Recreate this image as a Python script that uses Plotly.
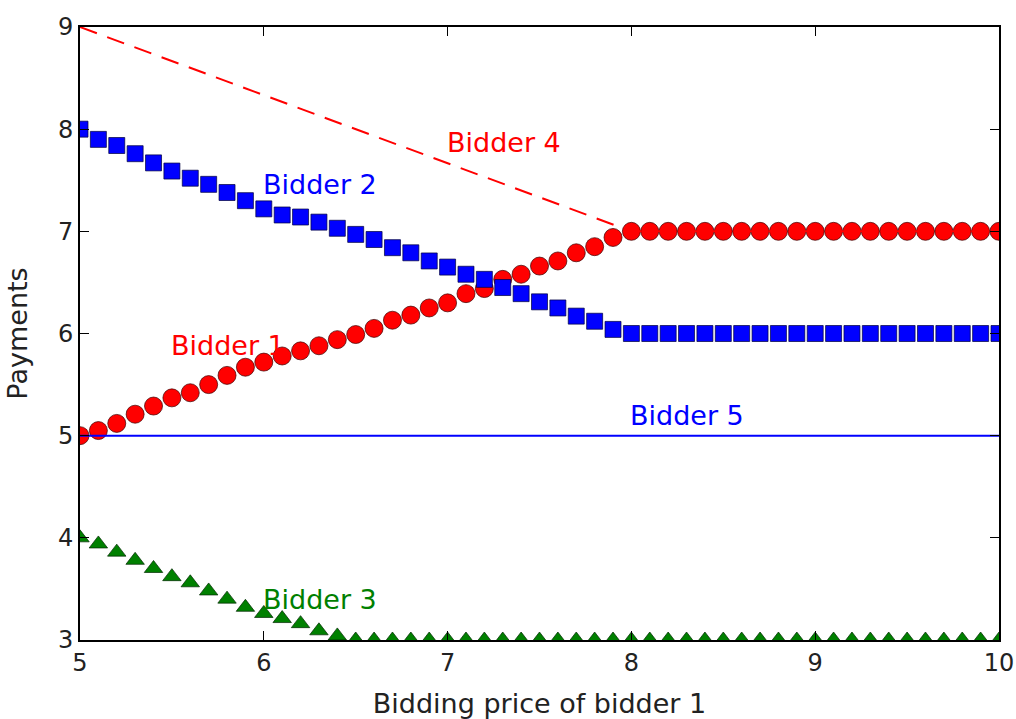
import plotly.graph_objects as go

x_price = [round(5 + 0.1 * i, 1) for i in range(51)]

bidder1 = [5.00, 5.05, 5.12, 5.21, 5.29, 5.37, 5.42, 5.50, 5.59, 5.67,
           5.72, 5.78, 5.83, 5.88, 5.94, 5.99, 6.05, 6.13, 6.18, 6.25,
           6.30, 6.39, 6.44, 6.53, 6.58, 6.66, 6.71, 6.79, 6.85, 6.94,
           7.00] + [7.00] * 20
bidder2 = [8.00, 7.90, 7.84, 7.76, 7.67, 7.59, 7.52, 7.46, 7.38, 7.30,
           7.22, 7.16, 7.14, 7.09, 7.03, 6.97, 6.92, 6.84, 6.79, 6.71,
           6.65, 6.58, 6.53, 6.45, 6.39, 6.31, 6.25, 6.17, 6.12, 6.04,
           6.00] + [6.00] * 20
bidder3 = [4.00, 3.94, 3.86, 3.78, 3.70, 3.62, 3.56, 3.48, 3.40, 3.32,
           3.26, 3.21, 3.16, 3.09, 3.04] + [3.00] * 36
bidder4_x = [5, 8, 10]
bidder4 = [9, 7, 7]
bidder5_x = [5, 10]
bidder5 = [5, 5]

labels = ["Bidder 1", "Bidder 2", "Bidder 3", "Bidder 4", "Bidder 5"]
label_x = [5.5, 6.0, 6.0, 7.0, 8.0]
label_y = [5.88, 7.46, 3.40, 7.87, 5.20]
label_colors = ["#ff0000", "#0000ff", "#008000", "#ff0000", "#0000ff"]

RED, BLUE, GREEN = "#ff0000", "#0000ff", "#008000"

fig = go.Figure()
fig.add_trace(go.Scatter(x=x_price, y=bidder1, mode="markers",
                         marker=dict(symbol="circle", size=18, color=RED,
                                     line=dict(color="rgba(60,0,0,0.7)", width=1))))
fig.add_trace(go.Scatter(x=x_price, y=bidder2, mode="markers",
                         marker=dict(symbol="square", size=16, color=BLUE,
                                     line=dict(color="rgba(0,0,60,0.7)", width=1))))
fig.add_trace(go.Scatter(x=x_price, y=bidder3, mode="markers",
                         marker=dict(symbol="triangle-up", size=16, color=GREEN,
                                     line=dict(color="rgba(0,40,0,0.7)", width=1))))
fig.add_trace(go.Scatter(x=bidder4_x, y=bidder4, mode="lines",
                         line=dict(color=RED, width=2, dash="18px,11px")))
fig.add_trace(go.Scatter(x=bidder5_x, y=bidder5, mode="lines",
                         line=dict(color=BLUE, width=2)))

for t, xx, yy, c in zip(labels, label_x, label_y, label_colors):
    fig.add_annotation(x=xx, y=yy, text=t, showarrow=False, xanchor="left",
                       yanchor="middle", xshift=-3,
                       font=dict(color=c, size=27, family="DejaVu Sans"))

axis_common = dict(showline=True, linecolor="black", linewidth=2, mirror="allticks",
                   ticks="inside", ticklen=9, tickwidth=1, tickcolor="black",
                   showgrid=False, zeroline=False, automargin=False,
                   tickfont=dict(family="DejaVu Sans", size=24, color="#222"))

fig.update_xaxes(range=[5, 10], tickvals=[5, 6, 7, 8, 9, 10],
                 title=dict(text="Bidding price of bidder 1", standoff=18,
                            font=dict(family="DejaVu Sans", size=27, color="#222")),
                 **axis_common)
fig.update_yaxes(range=[3, 9], tickvals=[3, 4, 5, 6, 7, 8, 9],
                 title=dict(text="Payments", standoff=22,
                            font=dict(family="DejaVu Sans", size=27, color="#222")),
                 **axis_common)

fig.update_layout(width=1016, height=719, showlegend=False,
                  plot_bgcolor="white", paper_bgcolor="white",
                  margin=dict(l=80, r=17, t=27, b=79))

fig.write_html("out.html", config={"displayModeBar": False},
               post_script="document.body.style.margin='0px';"
                           "document.body.style.overflow='hidden';")
